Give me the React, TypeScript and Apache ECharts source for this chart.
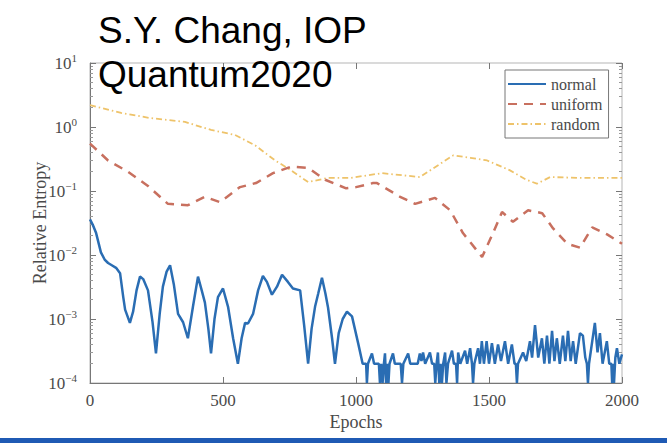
import React, { useEffect, useRef } from "react";
import * as echarts from "echarts";

// Relative entropy per training epoch for three initialisation schemes.
const seriesNames = ["normal", "uniform", "random"];

const normal: [number, number][] = [
  [0, 0.036], [10, 0.03], [23, 0.022], [41, 0.011], [55, 0.0085], [68, 0.0075], [85, 0.0068],
  [98, 0.0063], [113, 0.0052], [125, 0.0022], [132, 0.0014], [150, 0.00087], [162, 0.0013],
  [175, 0.0028], [188, 0.0046], [200, 0.0042], [218, 0.0028], [235, 0.0009], [248, 0.00029],
  [262, 0.0012], [274, 0.0032], [288, 0.0055], [301, 0.0069], [315, 0.0035], [331, 0.0012],
  [350, 0.00089], [368, 0.0005], [387, 0.00155], [406, 0.0046], [420, 0.0028], [432, 0.0018],
  [445, 0.0007], [455, 0.00029], [468, 0.001], [481, 0.0022], [500, 0.003], [519, 0.00155],
  [538, 0.0005], [556, 0.0002], [570, 0.0005], [583, 0.00087], [594, 0.00085], [613, 0.0012],
  [632, 0.0028], [650, 0.0047], [665, 0.0038], [684, 0.0024], [703, 0.0032], [722, 0.0049],
  [744, 0.0038], [763, 0.003], [790, 0.0028], [805, 0.0008], [820, 0.0002], [833, 0.0007],
  [846, 0.00155], [858, 0.0025], [872, 0.0044], [885, 0.0025], [895, 0.0015], [910, 0.0005],
  [921, 0.0002], [935, 0.0006], [950, 0.001], [966, 0.0013], [985, 0.0011], [1008, 0.00042],
  [1025, 0.0002],
  [1030, 2e-4], [1038, 2e-4], [1041, 1e-4], [1045, 2e-4], [1060, 2.9e-4], [1068, 2e-4],
  [1086, 2e-4], [1090, 1e-4], [1095, 2e-4], [1100, 1e-4], [1105, 2e-4], [1109, 2.9e-4],
  [1113, 1e-4], [1118, 2e-4], [1122, 1e-4], [1126, 2e-4], [1139, 2.9e-4], [1146, 2e-4],
  [1168, 2e-4], [1173, 1e-4], [1178, 2e-4], [1196, 2.9e-4], [1204, 2e-4], [1232, 2e-4],
  [1240, 2.9e-4], [1246, 2.2e-4], [1252, 3e-4], [1260, 2e-4], [1278, 3e-4], [1286, 2e-4],
  [1294, 2e-4], [1298, 1e-4], [1303, 2e-4], [1308, 3e-4], [1313, 1e-4], [1318, 2e-4],
  [1323, 1e-4], [1328, 2e-4], [1335, 3e-4], [1340, 1e-4], [1346, 2e-4], [1361, 3.2e-4],
  [1368, 2e-4], [1376, 2e-4], [1380, 1e-4], [1384, 3e-4], [1392, 2e-4], [1410, 3.2e-4],
  [1418, 2e-4], [1429, 3.5e-4], [1436, 2e-4], [1440, 1e-4], [1445, 2e-4], [1459, 3.5e-4],
  [1466, 2e-4], [1473, 4.5e-4], [1481, 2e-4], [1491, 4.5e-4], [1500, 2e-4], [1511, 4.2e-4],
  [1522, 2e-4], [1534, 4e-4], [1545, 2.2e-4], [1560, 4.5e-4], [1572, 2e-4], [1586, 4e-4],
  [1596, 2e-4], [1601, 2e-4], [1605, 1e-4], [1609, 2e-4], [1628, 3e-4], [1640, 2.2e-4],
  [1654, 4.5e-4], [1662, 2.5e-4], [1673, 8e-4], [1685, 2.5e-4], [1699, 5e-4], [1708, 2e-4],
  [1718, 5.5e-4], [1727, 2e-4], [1737, 6.5e-4], [1746, 2.2e-4], [1755, 5e-4], [1766, 2e-4],
  [1778, 5.5e-4], [1787, 2.2e-4], [1797, 6.5e-4], [1807, 2.2e-4], [1816, 4.5e-4], [1826, 2e-4],
  [1842, 6e-4], [1853, 5.5e-4], [1862, 2.5e-4], [1868, 2e-4], [1872, 1e-4], [1876, 2e-4],
  [1898, 8.7e-4], [1908, 3e-4], [1917, 6e-4], [1927, 2e-4], [1943, 4.5e-4], [1952, 2e-4],
  [1960, 2e-4], [1963, 1e-4], [1967, 2e-4], [1970, 1e-4], [1975, 2.5e-4], [1981, 3.5e-4],
  [1990, 2e-4], [2000, 2.8e-4],
];

const uniform: [number, number][] = [
  [0, 0.55], [68, 0.3], [143, 0.2], [218, 0.12], [293, 0.063], [368, 0.06], [432, 0.081],
  [489, 0.067], [564, 0.115], [624, 0.133], [688, 0.19], [756, 0.24], [820, 0.23], [884, 0.15],
  [963, 0.11], [1000, 0.115], [1064, 0.133], [1079, 0.133], [1166, 0.081], [1222, 0.063],
  [1297, 0.078], [1354, 0.05], [1402, 0.022], [1474, 0.0093], [1515, 0.022], [1549, 0.047],
  [1590, 0.033], [1647, 0.05], [1700, 0.045], [1741, 0.026], [1794, 0.015], [1842, 0.013],
  [1888, 0.027], [1944, 0.021], [2000, 0.015],
];

const random: [number, number][] = [
  [0, 2.2], [117, 1.66], [226, 1.38], [357, 1.2], [455, 0.9], [545, 0.75], [620, 0.52],
  [696, 0.3], [756, 0.21], [820, 0.138], [895, 0.16], [978, 0.16], [1098, 0.19], [1240, 0.165],
  [1300, 0.24], [1365, 0.36], [1430, 0.33], [1493, 0.3], [1579, 0.21], [1640, 0.15],
  [1680, 0.13], [1730, 0.165], [1853, 0.16], [2000, 0.16],
];

const xTicks = [0, 500, 1000, 1500, 2000];
const decades = [1e-4, 1e-3, 1e-2, 1e-1, 1, 10];

const minorTicks: number[] = [];
decades.slice(0, -1).forEach((d) => {
  for (let k = 2; k <= 9; k++) minorTicks.push(d * k);
});

const serif = '"Liberation Serif", "DejaVu Serif", serif';
const sans = '"Liberation Sans", Arial, sans-serif';
const textGray = "#4a4a4a";
const axisGray = "#777";

const decadeLabel = (v: number) => {
  const e = Math.round(Math.log10(v));
  return `{b|10}{s|${e < 0 ? "\u2212" + -e : e}}`;
};

export default function App() {
  const ref = useRef<HTMLDivElement>(null);

  useEffect(() => {
    if (!ref.current) return;
    const chart = echarts.init(ref.current, undefined, { renderer: "svg" });

    const yBase = {
      type: "log" as const,
      logBase: 10,
      min: decades[0],
      max: decades[decades.length - 1],
      splitLine: { show: false },
    };
    const majorTick = { inside: true, length: 6, lineStyle: { color: axisGray } };
    const minorTick = {
      inside: true,
      length: 3,
      customValues: minorTicks,
      lineStyle: { color: "#999" },
    };
    const xBase = {
      type: "value" as const,
      min: xTicks[0],
      max: xTicks[xTicks.length - 1],
      interval: 500,
      splitLine: { show: false },
    };

    chart.setOption({
      animation: false,
      backgroundColor: "#fff",
      grid: {
        left: 90,
        right: 45,
        top: 63,
        bottom: 60,
        show: true,
        borderColor: "#b5b5b5",
        borderWidth: 1,
      },
      legend: {
        data: seriesNames,
        orient: "vertical",
        left: 505,
        top: 70,
        itemWidth: 38,
        itemHeight: 14,
        itemGap: 4,
        padding: [6, 6, 6, 2],
        borderColor: "#777",
        borderWidth: 1,
        backgroundColor: "#fff",
        itemStyle: { opacity: 0 },
        textStyle: { fontFamily: serif, fontSize: 16, color: textGray, lineHeight: 14 },
      },
      xAxis: [
        {
          ...xBase,
          position: "bottom",
          axisLine: { show: true, lineStyle: { color: axisGray } },
          axisTick: majorTick,
          axisLabel: {
            margin: 9,
            fontFamily: serif,
            fontSize: 17,
            color: textGray,
            formatter: (v: number) => String(v),
          },
        },
        {
          ...xBase,
          position: "top",
          axisLine: { show: false },
          axisTick: majorTick,
          axisLabel: { show: false },
        },
      ],
      yAxis: [
        {
          ...yBase,
          position: "left",
          axisLine: { show: true, lineStyle: { color: axisGray } },
          axisTick: majorTick,
          axisLabel: {
            margin: 13,
            formatter: decadeLabel,
            rich: {
              b: { fontFamily: serif, fontSize: 17, color: textGray, lineHeight: 22 },
              s: { fontFamily: serif, fontSize: 11, color: textGray, verticalAlign: "top" },
            },
          },
        },
        {
          ...yBase,
          position: "left",
          axisLine: { show: false },
          axisTick: minorTick,
          axisLabel: { show: false },
        },
        {
          ...yBase,
          position: "right",
          axisLine: { show: false },
          axisTick: majorTick,
          axisLabel: { show: false },
        },
        {
          ...yBase,
          position: "right",
          axisLine: { show: false },
          axisTick: minorTick,
          axisLabel: { show: false },
        },
      ],
      series: [
        {
          name: seriesNames[0],
          type: "line",
          data: normal,
          symbol: "none",
          z: 4,
          lineStyle: { color: "#2a6db3", width: 2.5 },
          itemStyle: { color: "#2a6db3" },
        },
        {
          name: seriesNames[1],
          type: "line",
          data: uniform,
          symbol: "none",
          z: 3,
          lineStyle: { color: "#c8705f", width: 2.5, type: [9, 7] },
          itemStyle: { color: "#c8705f" },
        },
        {
          name: seriesNames[2],
          type: "line",
          data: random,
          symbol: "none",
          z: 2,
          lineStyle: { color: "#eec36a", width: 1.8, type: [6, 3, 1.5, 3] },
          itemStyle: { color: "#eec36a" },
        },
      ],
      graphic: [
        {
          type: "text",
          x: 40,
          y: 223,
          rotation: Math.PI / 2,
          style: {
            text: "Relative Entropy",
            fontFamily: serif,
            fontSize: 18,
            fill: textGray,
            align: "center",
            verticalAlign: "middle",
          },
        },
        {
          type: "text",
          x: 356,
          y: 422,
          style: {
            text: "Epochs",
            fontFamily: serif,
            fontSize: 18,
            fill: textGray,
            align: "center",
            verticalAlign: "middle",
          },
        },
        {
          type: "text",
          x: 98,
          y: 30,
          z: 100,
          style: {
            text: "S.Y. Chang, IOP",
            fontFamily: sans,
            fontSize: 37,
            fill: "#000",
            align: "left",
            verticalAlign: "middle",
          },
        },
        {
          type: "text",
          x: 98,
          y: 74,
          z: 100,
          style: {
            text: "Quantum2020",
            fontFamily: sans,
            fontSize: 37,
            fill: "#000",
            align: "left",
            verticalAlign: "middle",
          },
        },
        {
          type: "rect",
          x: 0,
          y: 438,
          z: 100,
          shape: { width: 667, height: 5 },
          style: { fill: "#1f5ab4" },
        },
      ],
    });

    return () => chart.dispose();
  }, []);

  return (
    <div
      ref={ref}
      style={{ position: "absolute", left: 0, top: 0, width: 667, height: 443, background: "#fff" }}
    />
  );
}
